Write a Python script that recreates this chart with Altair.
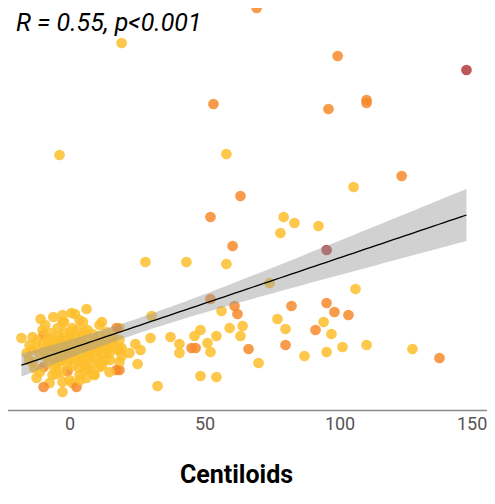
import altair as alt
import numpy as np
import pandas as pd

# Centiloids (x) and outcome (y, arbitrary units; y labels are cropped in the reference)
centiloids = [
    69.3, 19.3, 99.3, 147.0, 53.3, 95.9, 110.0, 110.0, -3.7, 58.1,
    63.3, 105.2, 123.0, 52.2, 79.3, 83.3, 78.1, 92.2, 60.4, 43.3,
    58.1, 28.1, 95.2, 74.1, 52.2, 105.9, 61.1, 62.2, 56.3, 82.2,
    95.2, 98.1, 103.3, 77.0, 94.1, 59.3, 64.1, 48.5, 46.3, 54.4,
    63.3, 80.0, 91.1, 97.0, 40.7, 40.7, 45.2, 46.7, 51.1, 52.2,
    66.3, 80.0, 87.0, 95.2, 101.1, 110.0, 127.0, 137.0, 70.0, 48.5,
    54.4, 32.6, 30.4, 18.5, 30.0, 37.4, 24.4, 26.3, 22.2, 25.2,
    18.5, 19.3, 18.5, 18.5,
    6.3, -10.7, -2.6, -2.6, -17.8, -13.7, -9.6, -10.0, -4.4, 1.1,
    0.0, 4.8, -6.3, -12.2, -1.1, 2.6, 6.3, 10.0, 13.7, 17.4,
    15.9, 19.3, -8.5, -13.7, -15.9, -9.6, -4.4, 0.0, 3.7, 7.4,
    11.1, 14.8, -6.3, -0.7, 3.7, 7.4, 11.1, 17.4, 14.8, -7.4,
    -2.6, 1.1, -9.6, 2.6, -2.6, -12.2, 6.3, -3.7, 1.9, 5.6,
    9.3, -1.9, -5.6, 13.0, 9.3, -8.1, -14.8, 11.1, 3.7, 0.7,
    18.5, 13.0, -3.0, 6.7,
    -12.0, -11.0, -10.0, -9.0, -8.0, -8.0, -7.0, -7.0, -6.0, -6.0,
    -5.0, -5.0, -4.0, -4.0, -3.0, -3.0, -2.0, -2.0, -1.0, -1.0,
    0.0, 0.0, 0.5, 1.0, 1.0, 1.5, 2.0, 2.0, 3.0, 3.0,
    3.5, 4.0, 4.0, 5.0, 5.0, 5.5, 6.0, 6.0, 7.0, 7.0,
    8.0, 8.0, 8.5, 9.0, 10.0, 10.0, 11.0, 11.0, 12.0, 12.0,
    13.0, 14.0, 15.0, 16.0, -14.0, -15.0, -13.0, -11.0, -5.0, 0.0,
    4.0, 9.0, -9.0, -2.0, 5.0, 2.0, -6.0, 12.0, 16.0, 18.0,
]
outcome = [
    4.02, 3.67, 3.54, 3.40, 3.06, 3.01, 3.10, 3.07, 2.55, 2.56,
    2.14, 2.23, 2.34, 1.93, 1.93, 1.87, 1.77, 1.84, 1.64, 1.48,
    1.46, 1.48, 1.60, 1.27, 1.11, 1.21, 1.04, 0.96, 0.99, 1.04,
    1.07, 0.98, 0.95, 0.91, 0.88, 0.82, 0.84, 0.80, 0.74, 0.74,
    0.74, 0.81, 0.80, 0.76, 0.66, 0.57, 0.62, 0.62, 0.67, 0.58,
    0.61, 0.65, 0.54, 0.58, 0.63, 0.65, 0.61, 0.52, 0.47, 0.34,
    0.33, 0.24, 0.94, 0.82, 0.72, 0.73, 0.66, 0.60, 0.57, 0.46,
    0.60, 0.54, 0.40, 0.48,
    1.01, 0.91, 0.95, 0.88, 0.72, 0.73, 0.75, 0.80, 0.82, 0.82,
    0.72, 0.75, 0.65, 0.62, 0.62, 0.65, 0.65, 0.62, 0.78, 0.82,
    0.68, 0.62, 0.53, 0.48, 0.57, 0.43, 0.48, 0.52, 0.48, 0.52,
    0.48, 0.57, 0.35, 0.39, 0.35, 0.40, 0.43, 0.40, 0.38, 0.27,
    0.28, 0.27, 0.23, 0.23, 0.18, 0.32, 0.32, 0.70, 0.58, 0.45,
    0.70, 0.55, 0.42, 0.65, 0.35, 0.65, 0.65, 0.85, 0.90, 0.97,
    0.70, 0.50, 0.38, 0.80,
    0.70, 0.55, 0.66, 0.58, 0.72, 0.48, 0.60, 0.77, 0.52, 0.70,
    0.62, 0.45, 0.74, 0.56, 0.66, 0.50, 0.78, 0.60, 0.70, 0.46,
    0.64, 0.56, 0.78, 0.68, 0.44, 0.60, 0.74, 0.52, 0.62, 0.80,
    0.42, 0.70, 0.56, 0.66, 0.50, 0.78, 0.60, 0.40, 0.70, 0.56,
    0.64, 0.46, 0.76, 0.58, 0.68, 0.52, 0.60, 0.74, 0.56, 0.44,
    0.70, 0.60, 0.50, 0.64, 0.60, 0.50, 0.42, 0.38, 0.36, 0.30,
    0.30, 0.36, 0.85, 0.88, 0.88, 0.96, 0.93, 0.88, 0.74, 0.60,
]
# colour group: 1 = yellow, 2 = orange, 3 = dark red
group = [
    2, 1, 2, 3, 2, 2, 2, 2, 1, 1,
    2, 1, 2, 2, 1, 1, 1, 1, 2, 1,
    1, 1, 3, 1, 2, 1, 2, 2, 1, 2,
    2, 2, 2, 1, 1, 1, 1, 1, 1, 1,
    1, 1, 2, 1, 1, 1, 2, 2, 1, 1,
    2, 2, 1, 1, 1, 1, 1, 2, 1, 1,
    1, 1, 1, 1, 1, 1, 1, 1, 1, 1,
    1, 1, 2, 1,
    1, 1, 1, 1, 1, 1, 2, 1, 1, 1,
    1, 1, 1, 1, 1, 1, 1, 1, 1, 2,
    1, 1, 1, 1, 1, 2, 1, 1, 1, 1,
    1, 1, 1, 2, 1, 1, 1, 2, 1, 1,
    1, 1, 2, 2, 1, 1, 1, 1, 1, 1,
    1, 1, 1, 1, 1, 1, 1, 1, 1, 1,
    1, 1, 1, 1,
] + [1] * 70
group_names = ["low", "mid", "high"]
group_colors = ["#FDBE2C", "#F7892A", "#B23A3C"]
x_ticks = [0, 50, 100, 150]
annotation = "R = 0.55, p<0.001"

df = pd.DataFrame({
    "Centiloids": centiloids,
    "y": outcome,
    "grp": [group_names[g - 1] for g in group],
})

# linear fit with 95% confidence band
x = np.array(centiloids)
y = np.array(outcome)
n = len(x)
b1, b0 = np.polyfit(x, y, 1)
resid = y - (b0 + b1 * x)
s = np.sqrt(np.sum(resid ** 2) / (n - 2))
xbar = x.mean()
sxx = np.sum((x - xbar) ** 2)
xs = np.linspace(x.min(), x.max(), 80)
fit = b0 + b1 * xs
se = s * np.sqrt(1 / n + (xs - xbar) ** 2 / sxx)
t = 1.97
fit_df = pd.DataFrame({"Centiloids": xs, "fit": fit, "lo": fit - t * se, "hi": fit + t * se})

xscale = alt.Scale(domain=[-25, 154.6], nice=False, zero=False)
yscale = alt.Scale(domain=[0, 4.1], nice=False, zero=False)

points = alt.Chart(df).mark_circle(size=115, opacity=0.85).encode(
    x=alt.X("Centiloids:Q", scale=xscale,
            axis=alt.Axis(values=x_ticks, title="Centiloids", grid=False, ticks=False,
                          labelFontSize=18, labelColor="#555555", labelFont="Roboto",
                          labelPadding=5, domainColor="#8a8a8a", domainWidth=1.3,
                          labelOffset={"condition": {"test": "datum.value === 150", "value": -3}, "value": 0},
                          titleFont="Roboto", titleFontSize=25, titleFontWeight="bold",
                          titleColor="#000000", titleX=234, titleY=72,
                          titleAlign="center", titleBaseline="alphabetic")),
    y=alt.Y("y:Q", scale=yscale,
            axis=alt.Axis(title=None, labels=False, ticks=False, grid=False,
                          domainColor="#8a8a8a", domainWidth=1.3)),
    color=alt.Color("grp:N", scale=alt.Scale(domain=group_names, range=group_colors), legend=None),
)

band = alt.Chart(fit_df).mark_area(color="#999999", opacity=0.45).encode(
    x=alt.X("Centiloids:Q", scale=xscale),
    y=alt.Y("lo:Q", scale=yscale),
    y2="hi:Q",
)

line = alt.Chart(fit_df).mark_line(color="#000000", strokeWidth=1.3).encode(
    x=alt.X("Centiloids:Q", scale=xscale),
    y=alt.Y("fit:Q", scale=yscale),
)

label = alt.Chart(pd.DataFrame({"t": [annotation]})).mark_text(
    align="left", baseline="alphabetic", fontSize=25, fontStyle="italic",
    font="Roboto", color="#000000",
).encode(x=alt.value(14), y=alt.value(31), text="t:N")

chart = alt.layer(points, band, line, label).properties(
    width=485, height=410,
    autosize=alt.AutoSizeParams(type="none"),
    padding={"left": -6, "top": -8, "right": 0, "bottom": 78},
).configure_view(stroke=None)

chart.save("out.html", embed_options={"renderer": "svg", "actions": False})
